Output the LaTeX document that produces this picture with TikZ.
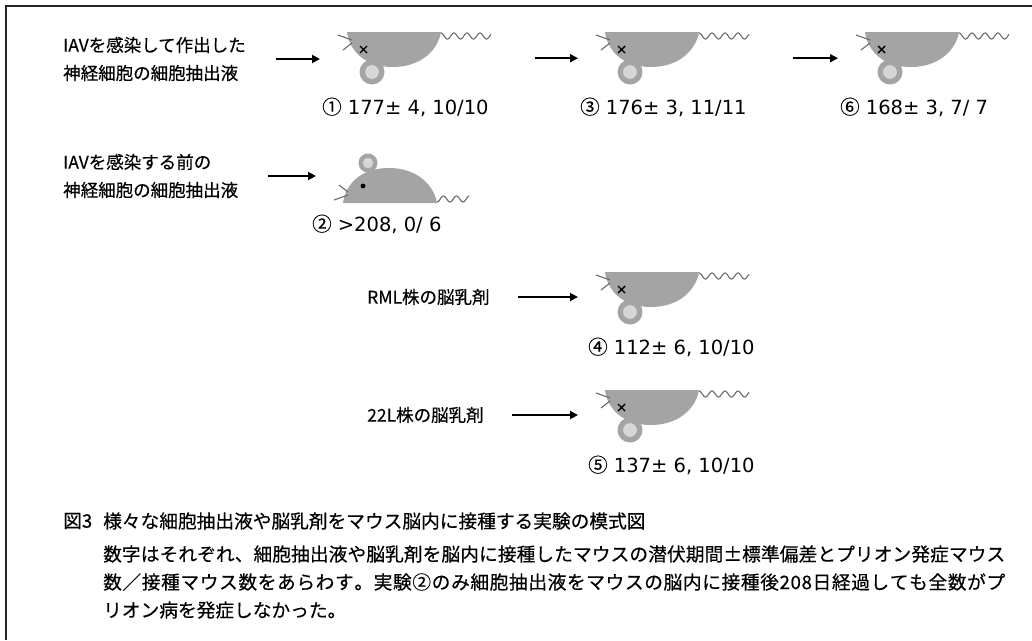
\documentclass[tikz,border=0pt]{standalone}
\usepackage{fontspec}
\setmainfont{Noto Sans CJK JP}[FakeBold=0.4]
\newfontfamily\numfont{DejaVu Sans}
\usetikzlibrary{arrows.meta}

% spread the characters of a line over the full text width
\def\spreadloop#1{\ifx\relax#1\else\hfil#1\expandafter\spreadloop\fi}
\def\spreadchars#1#2\relax{#1\spreadloop#2\relax}
\newcommand{\fullline}[1]{\makebox[902pt][s]{\spreadchars#1\relax}}
\newcommand{\maru}[1]{{\rmfamily #1}}

\definecolor{mousegray}{HTML}{A4A4A4}
\definecolor{earlight}{HTML}{D6D6D6}
\definecolor{whiskergray}{HTML}{6A6A6A}

\tikzset{
  arr/.style={line width=1.8pt, -{Triangle[length=8pt,width=8pt]}, shorten >=27pt},
  txt/.style={anchor=west, align=left, inner sep=0pt, font=\fontsize{17.5}{28}\selectfont},
  lbl/.style={anchor=west, inner sep=0pt, font=\fontsize{19.5}{24}\numfont},
  capt/.style={anchor=west, align=left, inner sep=0pt, font=\fontsize{18.7}{28}\selectfont},
  mousebox/.style={anchor=north west, inner sep=0pt, minimum width=94pt, minimum height=52pt},
  % ear radius, tail length
  pics/mouse body/.style 2 args={code={
    \fill[mousegray] (0,0) .. controls (2,16) and (15,35) .. (46,35)
                          .. controls (74,35) and (91,18) .. (94,0) -- cycle;
    \fill[mousegray] (25,40) circle (#1);
    \fill[earlight] (25,40) circle (#1*0.55);
    \draw[whiskergray, line width=1.1pt] plot[domain=0:#2, samples=80, smooth]
      ({94+\x}, {4-3*cos(\x*27.7)});
    \draw[whiskergray, line width=1.1pt] (-9,3) -- (5,8) (-4,18) -- (5,11);
  }},
  dead mouse/.pic={
    \pic {mouse body={12.5}{50}};
    \draw[line width=1.4pt] (13,14) -- (20,21) (13,21) -- (20,14);
  },
  live mouse/.pic={
    \pic[yscale=-1] {mouse body={9.5}{32}};
    \fill (20,-17) circle (2.4);
  },
}

\begin{document}
\begin{tikzpicture}[x=1pt, y=-1pt]

    \useasboundingbox (0,0) rectangle (1032,640);

    % 1. Рамка
    \draw[line width=1.2pt, black!85] (1032,6) -- (6,6) -- (6,640);

    % 2. Подписи слева
    \node[txt] (t1) at (63,59)  {IAVを感染して作出した\\神経細胞の細胞抽出液};
    \node[txt] (t2) at (63,176) {IAVを感染する前の\\神経細胞の細胞抽出液};
    \node[txt] (t3) at (367,297) {RML株の脳乳剤};
    \node[txt] (t4) at (367,415) {22L株の脳乳剤};

    % 3. Мыши
    \node[mousebox] (m1) at (347,32) {};
    \node[mousebox] (m3) at (605,32) {};
    \node[mousebox] (m6) at (865,32) {};
    \node[mousebox, anchor=south west] (m2) at (343,203) {};
    \node[mousebox] (m4) at (605,272) {};
    \node[mousebox] (m5) at (605,390) {};

    \pic at (m1.north west) {dead mouse};
    \pic at (m3.north west) {dead mouse};
    \pic at (m6.north west) {dead mouse};
    \pic at (m2.south west) {live mouse};
    \pic at (m4.north west) {dead mouse};
    \pic at (m5.north west) {dead mouse};

    % 4. Стрелки
    \draw[arr, shorten <=30pt] (t1.east) -- (t1.east -| m1.west);
    \draw[arr, shorten <=94pt] (m1.east) -- (m3.west);
    \draw[arr, shorten <=94pt] (m3.east) -- (m6.west);
    \draw[arr, shorten <=30pt] (t2.east) -- (t2.east -| m2.west);
    \draw[arr, shorten <=28pt] (t3.east) -- (t3.east -| m4.west);
    \draw[arr, shorten <=28pt] (t4.east) -- (t4.east -| m5.west);

    % 5. Подписи под мышами
    \node[lbl] (l1) at (322,107) {\maru{①} 177± 4, 10/10};
    \node[lbl] (l3) at (580,107) {\maru{③} 176± 3, 11/11};
    \node[lbl] (l6) at (840,107) {\maru{⑥} 168± 3, 7/ 7};
    \node[lbl] (l2) at (312,224) {\maru{②} >208, 0/ 6};
    \node[lbl] (l4) at (588,347) {\maru{④} 112± 6, 10/10};
    \node[lbl] (l5) at (588,465) {\maru{⑤} 137± 6, 10/10};

    % 6. Подпись к рисунку
    \node[capt] (fig) at (63,521) {図3};
    \node[capt] (title) at (103,521) {様々な細胞抽出液や脳乳剤をマウス脳内に接種する実験の模式図};
    \node[capt] (note) at (103,582) {\fullline{数字はそれぞれ、細胞抽出液や脳乳剤を脳内に接種したマウスの潜伏期間±標準偏差とプリオン発症マウス}\\
        \fullline{数／接種マウス数をあらわす。実験②のみ細胞抽出液をマウスの脳内に接種後208日経過しても全数がプ}\\
        リオン病を発症しなかった。};

\end{tikzpicture}
\end{document}
